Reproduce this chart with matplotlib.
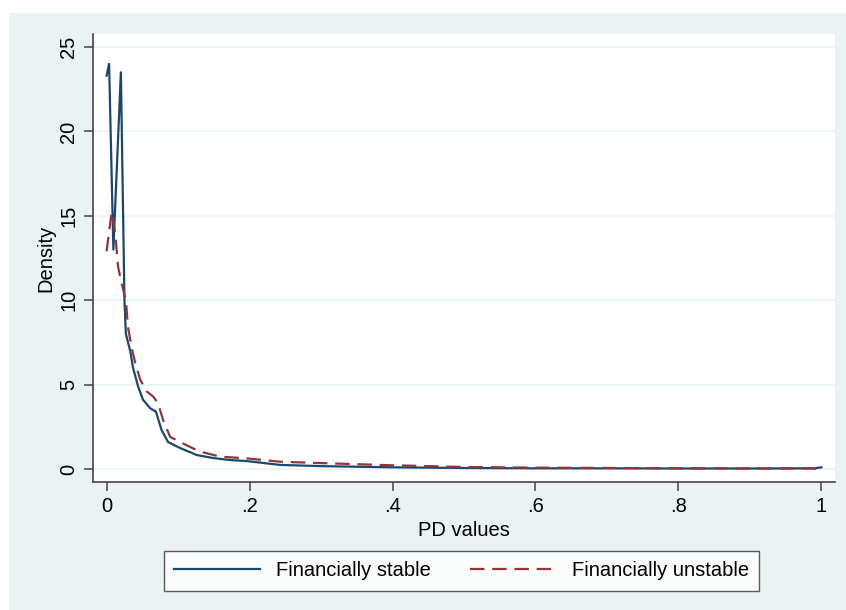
import matplotlib.pyplot as plt
from matplotlib.patches import Rectangle

plt.rcParams['font.family'] = ['Liberation Sans', 'DejaVu Sans']

# Kernel density estimates
pd_stable = [0.0, 0.0035, 0.0095, 0.020, 0.025, 0.027, 0.033, 0.037, 0.044, 0.051,
             0.061, 0.069, 0.077, 0.086, 0.103, 0.126, 0.149, 0.173, 0.196, 0.243,
             0.30, 0.40, 0.50, 0.60, 0.70, 0.80, 0.90, 0.99, 1.0]
dens_stable = [23.3, 24.0, 13.0, 23.5, 10.0, 8.0, 7.0, 6.0, 4.9, 4.1,
               3.6, 3.4, 2.3, 1.6, 1.24, 0.83, 0.65, 0.53, 0.47, 0.24,
               0.17, 0.10, 0.06, 0.04, 0.04, 0.03, 0.03, 0.04, 0.10]

pd_unstable = [0.0, 0.007, 0.012, 0.016, 0.021, 0.027, 0.030, 0.035, 0.040, 0.047,
               0.056, 0.065, 0.072, 0.079, 0.089, 0.103, 0.117, 0.131, 0.159, 0.196,
               0.243, 0.30, 0.40, 0.50, 0.60, 0.70, 0.80, 0.90, 1.0]
dens_unstable = [12.9, 15.2, 14.0, 12.0, 11.0, 10.0, 8.4, 7.2, 6.3, 5.3,
                 4.6, 4.3, 3.9, 2.9, 1.9, 1.6, 1.3, 1.03, 0.73, 0.63,
                 0.43, 0.35, 0.22, 0.12, 0.08, 0.06, 0.04, 0.03, 0.03]

xticks = [0, 0.2, 0.4, 0.6, 0.8, 1.0]
xtick_labels = ['0', '.2', '.4', '.6', '.8', '1']
yticks = [0, 5, 10, 15, 20, 25]

bg = '#eaf2f3'
navy = '#1a476f'
maroon = '#90353b'
axis_col = '#444444'
fs = 14.5

fig = plt.figure(figsize=(8.46, 6.10), dpi=100)
fig.patch.set_facecolor('white')
fig.patches.append(Rectangle((9 / 846, 0), 1, 1 - 13 / 610, transform=fig.transFigure,
                             facecolor=bg, edgecolor='none', zorder=-10))

ax = fig.add_axes([93 / 846, 1 - 482 / 610, (835 - 93) / 846, (482 - 34) / 610])
ax.set_facecolor('white')

ax.plot(pd_stable, dens_stable, color=navy, lw=1.6, label='Financially stable')
ax.plot(pd_unstable, dens_unstable, color=maroon, lw=1.6, dashes=(6.5, 3.5),
        label='Financially unstable')

ax.set_xlim(-0.019, 1.019)
ax.set_ylim(-0.77, 25.77)
ax.set_xticks(xticks)
ax.set_xticklabels(xtick_labels)
ax.set_yticks(yticks)
ax.yaxis.grid(True, color=bg, lw=1.2)
ax.set_axisbelow(True)

for s in ['top', 'right']:
    ax.spines[s].set_visible(False)
for s in ['left', 'bottom']:
    ax.spines[s].set_color(axis_col)
    ax.spines[s].set_linewidth(1.2)

ax.tick_params(axis='both', direction='out', length=6.5, width=1.1, color=axis_col,
               labelsize=fs, pad=4)
plt.setp(ax.get_yticklabels(), rotation=90, va='center')

ax.set_xlabel('PD values', fontsize=fs, labelpad=4)
ax.set_ylabel('Density', fontsize=fs, labelpad=3)

leg = fig.legend(loc='center', bbox_to_anchor=(461.5 / 846, 1 - 571 / 610), ncol=2,
                 fontsize=fs, handlelength=4.3, handletextpad=0.8, columnspacing=1.9,
                 frameon=True, fancybox=False, borderpad=0.5)
leg.get_frame().set_edgecolor('#333333')
leg.get_frame().set_linewidth(1.0)
leg.get_frame().set_facecolor('white')

fig.savefig('out.png', dpi=100)
